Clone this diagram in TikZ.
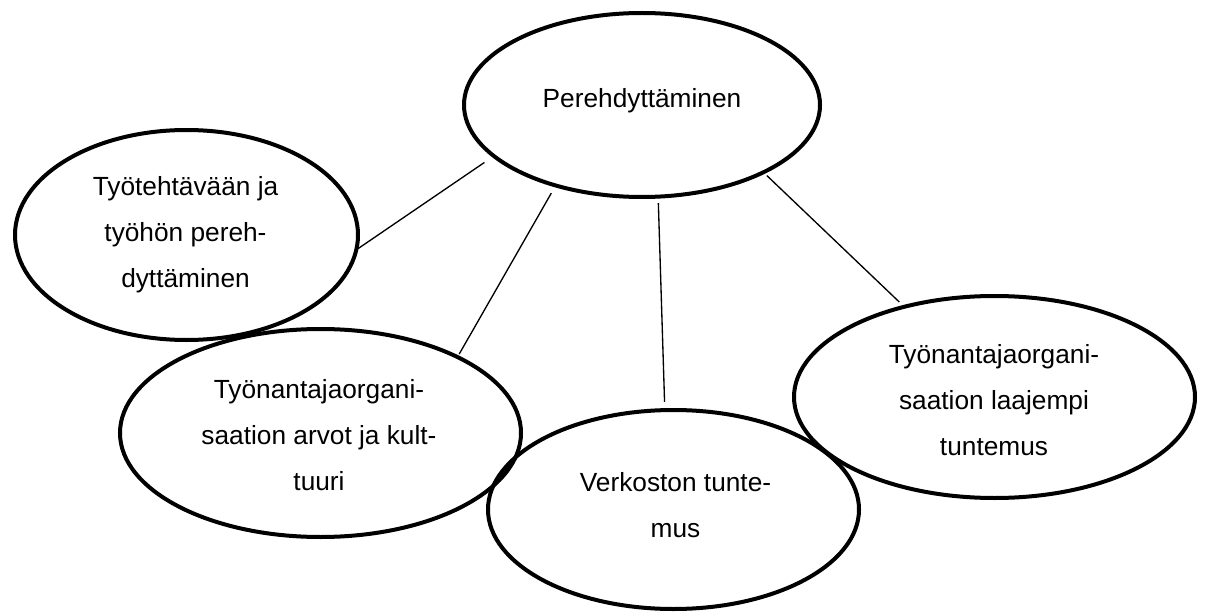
\documentclass[tikz,border=0pt]{standalone}
\usepackage{fontspec}
\setmainfont{Liberation Sans}
\usetikzlibrary{shapes.geometric}
\begin{document}
\begin{tikzpicture}[x=0.75pt,y=-0.75pt,
  bubble/.style={ellipse, draw=black, line width=3pt, inner sep=0pt, outer sep=0pt},
  caption/.style={anchor=base, align=center, inner sep=0pt,
    font=\fontsize{19.7pt}{34.5pt}\selectfont},
  link/.style={draw=black, line width=1pt}]
\useasboundingbox (0,0) rectangle (1206,613);

% outlines of the five topics
\node[bubble, minimum width=267pt,    minimum height=138pt]   (core)    at (642,105)     {};
\node[bubble, minimum width=257.25pt, minimum height=157.5pt] (tasks)   at (186.5,235)   {};
\node[bubble, minimum width=300.75pt, minimum height=156pt]   (values)  at (320.5,433)   {};
\node[bubble, minimum width=278.25pt, minimum height=149.25pt](network) at (673.5,509.5) {};
\node[bubble, minimum width=300.75pt, minimum height=151.5pt] (wider)   at (994.5,397)   {};

% texts (base anchor sits on the last line)
\node[caption] (tcore)    at (642,108)   {Perehdyttäminen};
\node[caption] (ttasks)   at (185.5,287) {Työtehtävään ja\\työhön pereh-\\dyttäminen};
\node[caption] (tvalues)  at (319,490)   {Työnantajaorgani-\\saation arvot ja kult-\\tuuri};
\node[caption] (tnetwork) at (675.5,537) {Verkoston tunte-\\mus};
\node[caption] (twider)   at (994,455)   {Työnantajaorgani-\\saation laajempi\\tuntemus};

% connectors from the central topic
\draw[link, shorten <=8.6pt] (core.199) -- (tasks.355);
\draw[link, shorten <=6.6pt, shorten >=2.6pt] (core.223) -- (values.29);
\draw[link, shorten <=4.8pt, shorten >=6.1pt] (core.280) -- (network.95);
\draw[link, shorten <=3.5pt, shorten >=5.2pt] (core.331) -- (wider.135);
\end{tikzpicture}
\end{document}
